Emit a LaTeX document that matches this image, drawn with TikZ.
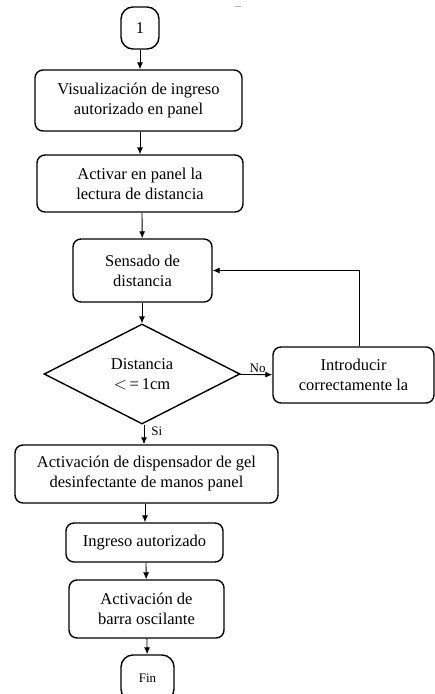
\documentclass[tikz,border=0pt]{standalone}
\usepackage{fontspec}
\setmainfont{Liberation Serif}
\usepackage{tikz}
\usetikzlibrary{positioning, calc, shapes, arrows, arrows.meta}

\tikzset{
	paso/.style = {draw, line width=1.4pt, rounded corners=8pt, align=center, inner sep=0pt,
		font=\fontsize{16.5}{20}\selectfont},
	terminal/.style = {paso, rounded corners=12pt},
	decision/.style = {draw, line width=1.4pt, diamond, align=center, inner sep=0pt,
		font=\fontsize{16.5}{20}\selectfont},
	flecha/.style = {-{Latex[length=7pt, width=6pt]}, line width=0.9pt},
	etiqueta/.style = {font=\fontsize{13}{15}\selectfont, inner sep=1pt}
}

\begin{document}
\begin{tikzpicture}[x=1pt, y=-1pt]
						\useasboundingbox (0,0) rectangle (435,694);
						\clip (0,0) rectangle (435,694);
						% marca suelta arriba
						\draw[gray!60, line width=1pt] (235,6) -- (241,6);
						% nodos
						\node[terminal, minimum width=38pt, minimum height=42pt] (inicio) at (140,28) {1};
						\node[paso, minimum width=207pt, minimum height=61pt] (visual) at (138.5,100.5) {Visualización de ingreso\\autorizado en panel};
						\node[paso, minimum width=206pt, minimum height=57pt] (lectura) at (140,183.5) {Activar en panel la\\lectura de distancia};
						\node[paso, minimum width=139pt, minimum height=63pt] (sensado) at (142.5,270.5) {Sensado de\\distancia};
						\node[decision, minimum width=196pt, minimum height=100pt] (distancia) at (142,374) {Distancia\\$<$\,=\,1cm};
						\node[paso, minimum width=161pt, minimum height=56pt] (introducir) at (353.5,375) {Introducir\\correctamente la};
						\node[paso, minimum width=263pt, minimum height=58pt] (gel) at (146.5,474) {Activación de dispensador de gel\\desinfectante de manos panel};
						\node[paso, minimum width=157pt, minimum height=39pt] (ingreso) at (144.5,542.5) {Ingreso autorizado};
						\node[paso, minimum width=155pt, minimum height=58pt] (barra) at (146.5,609) {Activación de\\barra oscilante};
						\node[terminal, minimum width=53pt, minimum height=46pt, font=\fontsize{13}{15}\selectfont] (fin) at (147.5,678) {Fin};
						% conectores
						\draw[flecha] (inicio) -- (inicio |- visual.north);
						\draw[flecha] (lectura |- visual.south) -- (lectura);
						\draw[flecha] (lectura.south -| distancia) -- (sensado);
						\draw[flecha] (sensado.south -| distancia) -- (distancia);
						\draw[flecha] (distancia) -- (introducir) node[etiqueta, pos=0.55, above] {No};
						\draw[flecha] (introducir.north -| 359,0) |- (sensado);
						\draw[flecha] (distancia.south -| 144,0) -- (gel.north -| 144,0) node[etiqueta, pos=0.35, right=6pt] {Si};
						\draw[flecha] (gel.south -| 145,0) -- (ingreso.north -| 145,0);
						\draw[flecha] (ingreso.south -| 146,0) -- (barra);
						\draw[flecha] (barra) -- (fin);
				\end{tikzpicture}
\end{document}
